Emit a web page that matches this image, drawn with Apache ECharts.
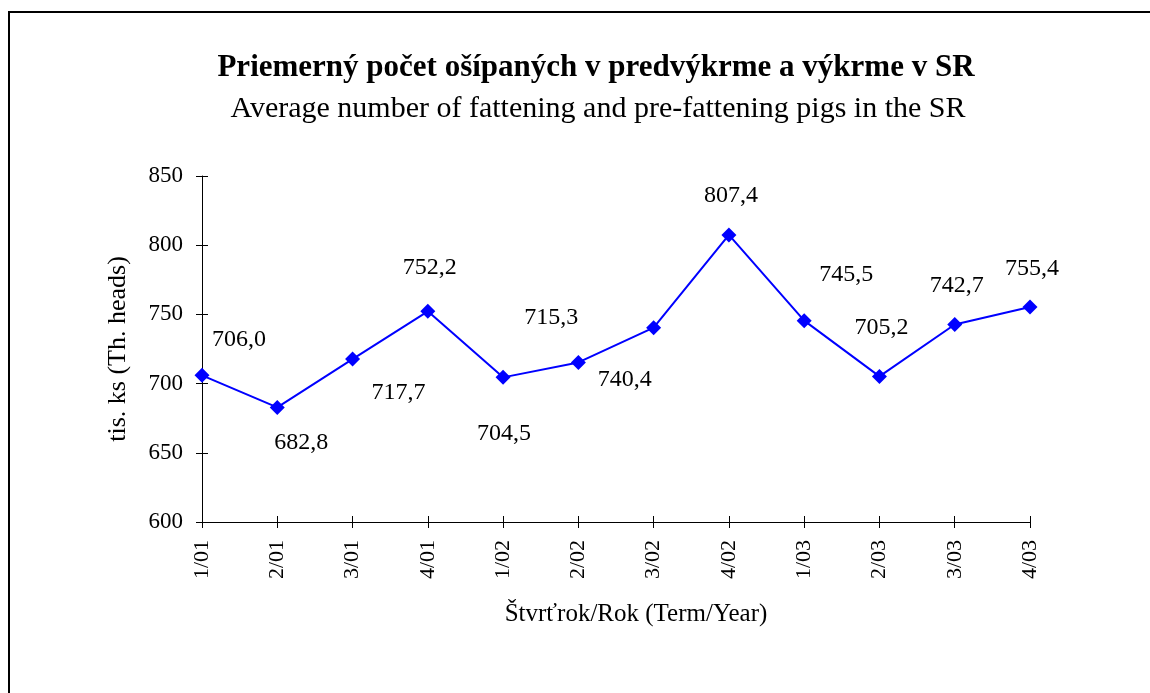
<!DOCTYPE html>
<html>
<head>
<meta charset="utf-8">
<script src="https://cdn.jsdelivr.net/npm/echarts@6/dist/echarts.min.js"></script>
<style>
  html, body { margin: 0; padding: 0; background: #fff; }
  #main { width: 1150px; height: 693px; }
</style>
</head>
<body>
<div id="main"></div>
<script>
// data
const quarters = ['1/01', '2/01', '3/01', '4/01', '1/02', '2/02', '3/02', '4/02', '1/03', '2/03', '3/03', '4/03'];
const pigs = [706.0, 682.8, 717.7, 752.2, 704.5, 715.3, 740.4, 807.4, 745.5, 705.2, 742.7, 755.4];
const yTicks = [600, 650, 700, 750, 800, 850];

// where each value label sits relative to its point (px)
const labelShift = [
  [37, -36], [24, 35], [46, 34], [2, -44], [1, 56], [-27, -45],
  [-29, 52], [2, -39], [42, -46], [2, -49], [2, -39], [2, -38]
];

const serif = '"Liberation Serif", "Times New Roman", serif';

var chartDom = document.getElementById('main');
var myChart = echarts.init(chartDom);

let option = {
  animation: false,
  backgroundColor: '#fff',
  textStyle: { fontFamily: serif, color: '#000' },
  title: [
    {
      text: 'Priemerný počet ošípaných v predvýkrme a výkrme v SR',
      left: 591,
      textAlign: 'center',
      top: 47,
      textStyle: { fontFamily: serif, fontSize: 31, fontWeight: 'bold', color: '#000' }
    },
    {
      text: 'Average number of fattening and pre-fattening pigs in the SR',
      left: 593,
      textAlign: 'center',
      top: 89,
      textStyle: { fontFamily: serif, fontSize: 30, fontWeight: 'normal', color: '#000' }
    }
  ],
  graphic: [
    {
      type: 'rect',
      shape: { x: 9, y: 12, width: 1200, height: 800 },
      style: { fill: 'none', stroke: '#000', lineWidth: 2 },
      silent: true
    }
  ],
  grid: { left: 202, right: 120, top: 176, bottom: 171 },
  xAxis: [
    {
      type: 'category',
      data: quarters,
      boundaryGap: false,
      name: 'Štvrťrok/Rok (Term/Year)',
      nameLocation: 'middle',
      nameGap: 80,
      nameTextStyle: { fontFamily: serif, fontSize: 25, color: '#000', padding: [0, 0, 0, 40] },
      axisLine: { lineStyle: { color: '#000', width: 1 } },
      axisTick: { alignWithLabel: true, length: 6, lineStyle: { color: '#000' } },
      axisLabel: { rotate: 90, margin: 18, fontFamily: serif, fontSize: 22, color: '#000', interval: 0 },
      splitLine: { show: false }
    },
    {
      type: 'category',
      data: quarters,
      boundaryGap: false,
      position: 'bottom',
      axisLine: { show: false },
      axisTick: { inside: true, length: 6, lineStyle: { color: '#000' } },
      axisLabel: { show: false },
      splitLine: { show: false }
    }
  ],
  yAxis: [
    {
      type: 'value',
      min: yTicks[0],
      max: yTicks[yTicks.length - 1],
      interval: yTicks[1] - yTicks[0],
      name: 'tis. ks (Th. heads)',
      nameLocation: 'middle',
      nameGap: 71,
      nameTextStyle: { fontFamily: serif, fontSize: 26, color: '#000' },
      axisLine: { show: true, lineStyle: { color: '#000', width: 1 } },
      axisTick: { show: true, length: 6, lineStyle: { color: '#000' } },
      axisLabel: { margin: 19, fontFamily: serif, fontSize: 23, color: '#000' },
      splitLine: { show: false }
    },
    {
      type: 'value',
      min: yTicks[0],
      max: yTicks[yTicks.length - 1],
      interval: yTicks[1] - yTicks[0],
      position: 'left',
      axisLine: { show: false },
      axisTick: { show: true, inside: true, length: 6, lineStyle: { color: '#000' } },
      axisLabel: { show: false },
      splitLine: { show: false }
    }
  ],
  series: [
    {
      type: 'line',
      data: pigs.map((v, i) => ({
        value: v,
        label: { offset: labelShift[i] }
      })),
      symbol: 'diamond',
      symbolSize: 15,
      itemStyle: { color: '#0000ff' },
      lineStyle: { color: '#0000ff', width: 2 },
      label: {
        show: true,
        position: 'inside',
        fontFamily: serif,
        fontSize: 24,
        color: '#000',
        formatter: p => p.value.toFixed(1).replace('.', ',')
      }
    }
  ]
};

option && myChart.setOption(option);
</script>
</body>
</html>
